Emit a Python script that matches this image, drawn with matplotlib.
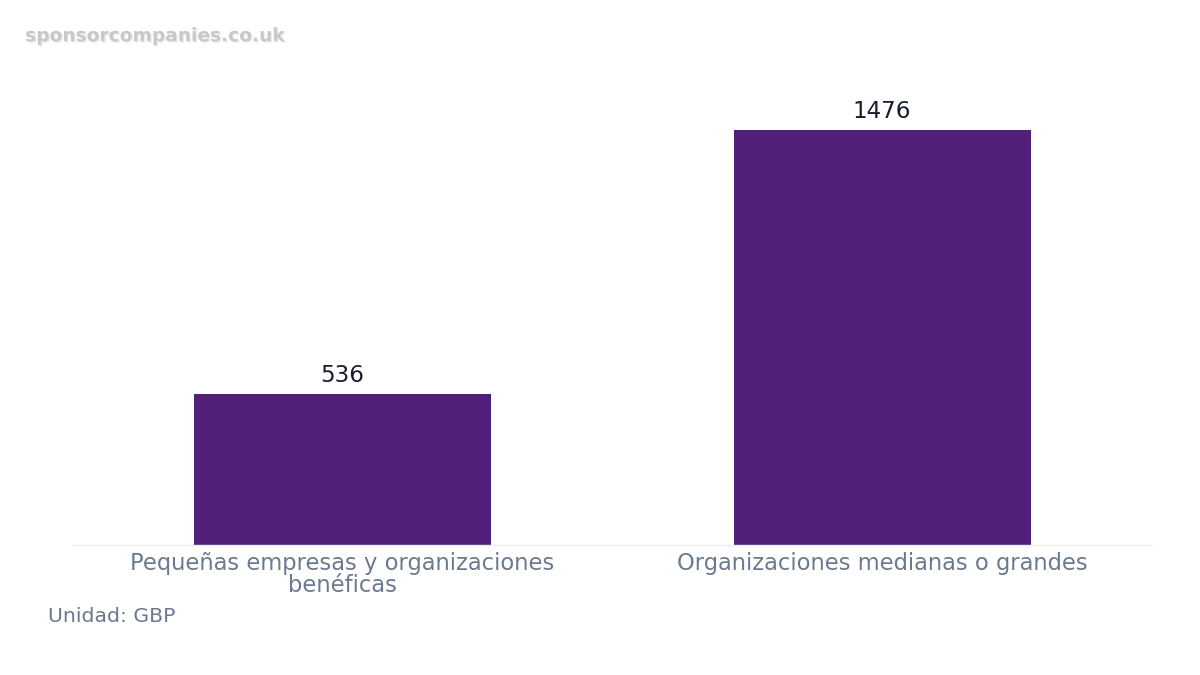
import matplotlib.pyplot as plt
import matplotlib.patheffects as pe

categories = ["Pequeñas empresas y organizaciones\nbenéficas",
              "Organizaciones medianas o grandes"]
values = [536, 1476]

BAR_COLOR = "#52207a"
TICK_COLOR = "#6b7a90"
VALUE_COLOR = "#161c2d"

fig = plt.figure(figsize=(12, 6.75), dpi=100)
ax = fig.add_axes([0.06, 0.1926, 0.90, 0.6755])

x = range(len(categories))
bars = ax.bar(x, values, width=0.55, color=BAR_COLOR, zorder=2)
ax.set_xlim(-0.5, 1.5)
ax.set_ylim(0, max(values) * 1.1)

for rect, v in zip(bars, values):
    ax.annotate(f"{v}", (rect.get_x() + rect.get_width() / 2, rect.get_height()),
                xytext=(0, 5.5), textcoords="offset points",
                ha="center", va="bottom", fontsize=16.6, color=VALUE_COLOR)

ax.set_xticks(list(x))
ax.set_xticklabels(categories, fontsize=16.3, color=TICK_COLOR, linespacing=0.95)
ax.tick_params(axis="x", length=0, pad=5)
ax.set_yticks([])
for side in ["top", "right", "left"]:
    ax.spines[side].set_visible(False)
ax.spines["bottom"].set_color("#eeeeee")
ax.spines["bottom"].set_linewidth(1)

fig.text(0.04, 0.087, "Unidad: GBP", fontsize=14.7, color=TICK_COLOR, va="center")
fig.text(0.021, 0.947, "sponsorcompanies.co.uk", fontsize=13.4, fontweight="bold",
         color="#c8c8c8", va="center",
         path_effects=[pe.withSimplePatchShadow(offset=(1, -1), shadow_rgbFace="#e0e0e0", alpha=0.6)])

fig.savefig("out.png", dpi=100)
